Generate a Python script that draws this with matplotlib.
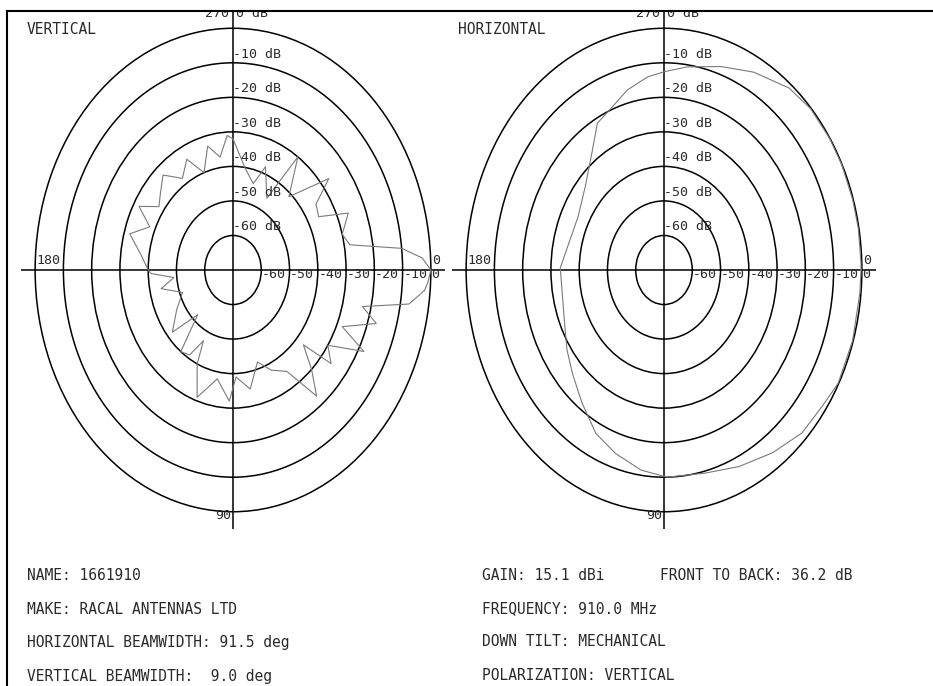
import numpy as np
import matplotlib
matplotlib.use('Agg')
import matplotlib.pyplot as plt
from matplotlib.transforms import Bbox, TransformedBbox

# antenna pattern data, angle in degrees (0 = right, 90 = down), level in dB
vert_angles = [0, 3, 5, 9, 13, 17, 23, 27, 33, 38, 41, 46, 51, 57, 65, 72, 80, 88, 92, 100,
               109, 115, 117, 122, 128, 134, 140, 150, 160, 168, 174, 178, 180, 188, 196, 203,
               209, 215, 221, 228, 236, 243, 250, 256, 262, 267, 270, 278, 286, 291, 300, 305,
               313, 322, 327, 333, 338, 345, 350, 354, 357, 360]
vert_db = [0, -1, -2, -7, -23, -17, -28, -18, -30, -26, -37, -30, -23, -35, -38, -42, -35, -39, -32, -38,
           -31, -40, -47, -41, -40, -52, -42, -47, -51, -44, -49, -41, -40, -37, -32, -38,
           -32, -38, -36, -33, -38, -34, -40, -33, -37, -31, -32, -40, -44, -38, -46, -30,
           -41, -27, -35, -36, -26, -30, -28, -10, -3, 0]

horiz_angles = [0, 5.5, 17, 28, 35, 44, 54, 65, 76, 89, 98, 108, 117, 127, 137, 146, 155, 170,
                181, 207, 221, 233, 241, 249, 256, 264, 270, 278, 289, 299, 310, 318, 327, 334,
                343, 350, 358, 360]
horiz_db = [-0.3, -0.4, -0.2, -0.2, -1.5, -2.1, -4.6, -7.2, -9.4, -10, -11.5, -14.2, -16.9, -21.8,
            -25.8, -28.6, -31.3, -33.4, -33.3, -35.9, -33.1, -27.6, -21.4, -19.3, -16.3, -13.8,
            -12.6, -10.6, -7.7, -4.5, -1.2, -0.2, -0.1, -0.1, -0.2, -0.2, -0.3, -0.3]

ring_levels = [-60, -50, -40, -30, -20, -10, 0]
ring_labels = ['-60 dB', '-50 dB', '-40 dB', '-30 dB', '-20 dB', '-10 dB', '0 dB']
axis_labels = ['-60', '-50', '-40', '-30', '-20', '-10', '0']

info_left = ['NAME: 1661910', 'MAKE: RACAL ANTENNAS LTD',
             'HORIZONTAL BEAMWIDTH: 91.5 deg', 'VERTICAL BEAMWIDTH:  9.0 deg']
info_right = ['GAIN: 15.1 dBi', 'FREQUENCY: 910.0 MHz', 'DOWN TILT: MECHANICAL',
              'POLARIZATION: VERTICAL']
info_extra = 'FRONT TO BACK: 36.2 dB'

W, H = 933, 686
plt.rcParams['font.family'] = ['DejaVu Sans Mono']
fig = plt.figure(figsize=(W / 100, H / 100), dpi=100)
fig.patch.set_facecolor('white')

txt_col = '#2a2a2a'
# everything above the page frame is cut off
page_clip = TransformedBbox(Bbox([[0, 0], [1, 1 - 12 / H]]), fig.transFigure)


def pattern(left, title, angles, db):
    ax = fig.add_axes([left / W, 1 - 529 / H, 424 / W, 518 / H], projection='polar')
    ax.set_aspect('auto')
    ax.set_theta_zero_location('E')
    ax.set_theta_direction(-1)
    ax.set_rlim(-70, 5)
    ax.set_rgrids(ring_levels, labels=[''] * len(ring_levels))
    ax.set_thetagrids([0, 90, 180, 270], labels=[''] * 4)
    ax.grid(True, color='black', lw=1.1)
    ax.spines['polar'].set_visible(False)
    ax.patch.set_alpha(0)
    ax.tick_params(length=0)

    ax.plot(np.deg2rad(angles), db, color='#7a7a7a', lw=0.8)

    up = np.deg2rad(270)
    for lvl, lab in zip(ring_levels, ring_labels):
        dy = 6 if lvl == 0 else 1.5
        dx = 2 if lvl == 0 else 0
        t = ax.annotate(lab, (up, lvl), xytext=(dx, dy), textcoords='offset points',
                        ha='left', va='bottom', fontsize=9.5, color=txt_col, annotation_clip=False)
        t.set_clip_box(page_clip)
    t = ax.annotate('270', (up, 0), xytext=(-3, 6), textcoords='offset points',
                    ha='right', va='bottom', fontsize=9.5, color=txt_col, annotation_clip=False)
    t.set_clip_box(page_clip)
    for lvl, lab in zip(ring_levels, axis_labels):
        ax.annotate(lab, (0, lvl), xytext=(0.5, -3), textcoords='offset points',
                    ha='left', va='center', fontsize=9.5, color=txt_col, annotation_clip=False)
    ax.annotate('0', (0, 0), xytext=(1, 2), textcoords='offset points',
                ha='left', va='bottom', fontsize=9.5, color=txt_col, annotation_clip=False)
    ax.annotate('180', (np.pi, 0), xytext=(1, 2), textcoords='offset points',
                ha='left', va='bottom', fontsize=9.5, color=txt_col, annotation_clip=False)
    ax.annotate('90', (np.deg2rad(90), 0), xytext=(-1, -3), textcoords='offset points',
                ha='right', va='center', fontsize=9.5, color=txt_col, annotation_clip=False)
    fig.text((left + 6) / W, 1 - 30 / H, title, fontsize=10.5, color=txt_col, va='center')
    return ax


pattern(21, 'VERTICAL', vert_angles, vert_db)
pattern(452, 'HORIZONTAL', horiz_angles, horiz_db)

rows = [575, 609, 642, 676]
for y, a, b in zip(rows, info_left, info_right):
    fig.text(27 / W, 1 - y / H, a, fontsize=10.5, color=txt_col, va='center')
    fig.text(482 / W, 1 - y / H, b, fontsize=10.5, color=txt_col, va='center')
fig.text(660 / W, 1 - rows[0] / H, info_extra, fontsize=10.5, color=txt_col, va='center')

# page frame (top and left edges)
fig.add_artist(plt.Line2D([7 / W, 1], [1 - 11 / H, 1 - 11 / H], color='black', lw=1.5))
fig.add_artist(plt.Line2D([7 / W, 7 / W], [0, 1 - 11 / H], color='black', lw=1.5))

fig.savefig('out.png', dpi=100, facecolor='white')
